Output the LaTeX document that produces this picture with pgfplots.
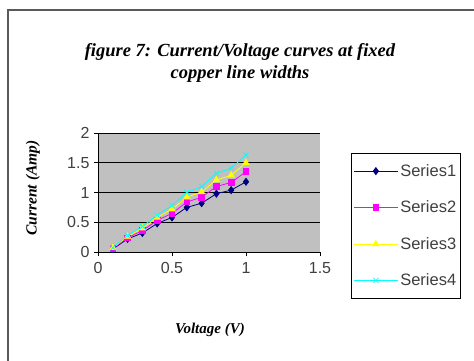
\documentclass[border=0pt]{standalone}
\usepackage{pgfplots}
\pgfplotsset{compat=1.18}
\usepackage{fontspec}
\setmainfont{Liberation Serif}
\newfontfamily\arialf{Liberation Sans}
\definecolor{plotgray}{HTML}{C0C0C0}
\definecolor{sone}{HTML}{000080}
\definecolor{stwo}{HTML}{FF00FF}
\definecolor{sthree}{HTML}{FFFF00}
\definecolor{sfour}{HTML}{00FFFF}
\definecolor{ticktext}{HTML}{404040}
\begin{document}
\begin{tikzpicture}[x=1pt,y=1pt]
\useasboundingbox (0,0) rectangle (474,360);
\fill[white] (0,0) rectangle (474,360);
% outer chart frame
\draw[gray!70!black, line width=1.2pt] (8,-5) -- (8,350) -- (480,350);
% title
\node[font=\fontsize{18.5}{22}\selectfont\bfseries\itshape, align=center] at (240,297) {figure 7: Current/Voltage curves at fixed\\copper line widths};
% axis labels
\node[font=\fontsize{15.5}{17}\selectfont\bfseries\itshape, rotate=90] at (33,172) {Current (Amp)};
\node[font=\fontsize{15}{17}\selectfont\bfseries\itshape] at (210,30) {Voltage (V)};
\begin{axis}[
  at={(98pt,108pt)}, anchor=south west,
  scale only axis, width=222pt, height=119pt,
  xmin=0, xmax=1.5, ymin=0, ymax=2,
  xtick={0,0.5,1,1.5}, ytick={0,0.5,1,1.5,2},
  axis x line*=bottom, axis y line*=left,
  axis line style={-, black, line width=1pt},
  axis background/.style={fill=plotgray},
  ymajorgrids, grid style={black, line width=1pt},
  tick align=outside, major tick length=4pt,
  tick style={black, line width=0.8pt},
  x tick label style={font=\arialf\fontsize{16}{18}\selectfont, text=ticktext, yshift=-3pt},
  y tick label style={font=\arialf\fontsize{16}{18}\selectfont, text=ticktext, xshift=-1pt},
  /pgf/number format/assume math mode=true,
  clip=false,
  legend style={at={(rel axis cs:1.14,0.832)}, anchor=north west, draw=black, line width=0.8pt, fill=white,
    font=\arialf\fontsize{16.5}{18}\selectfont, text=ticktext, row sep=19pt, inner ysep=9pt, inner xsep=2pt},
  legend cell align=left,
  legend image code/.code={\draw[mark repeat=2,mark phase=2] plot coordinates {(0pt,0pt) (22pt,0pt) (44pt,0pt)};},
]
\addplot[sone, line width=0.8pt, mark=diamond*, mark size=3.5pt] coordinates {
 (0.1,0.05) (0.2,0.22) (0.3,0.32) (0.4,0.48) (0.5,0.58) (0.6,0.75) (0.7,0.82) (0.8,0.98) (0.9,1.04) (1.0,1.18)};
\addlegendentry{Series1}
\addplot[stwo, line width=0.8pt, mark=square*, mark size=2.8pt] coordinates {
 (0.1,0.06) (0.2,0.24) (0.3,0.36) (0.4,0.53) (0.5,0.65) (0.6,0.84) (0.7,0.92) (0.8,1.10) (0.9,1.17) (1.0,1.35)};
\addlegendentry{Series2}
\addplot[sthree, line width=0.8pt, mark=triangle*, mark size=3.5pt] coordinates {
 (0.1,0.07) (0.2,0.26) (0.3,0.40) (0.4,0.58) (0.5,0.72) (0.6,0.92) (0.7,1.01) (0.8,1.21) (0.9,1.29) (1.0,1.50)};
\addlegendentry{Series3}
\addplot[sfour, line width=0.8pt, mark=x, mark size=3.5pt] coordinates {
 (0.1,0.07) (0.2,0.28) (0.3,0.43) (0.4,0.62) (0.5,0.78) (0.6,1.00) (0.7,1.10) (0.8,1.32) (0.9,1.41) (1.0,1.63)};
\addlegendentry{Series4}
\end{axis}
\end{tikzpicture}
\end{document}
